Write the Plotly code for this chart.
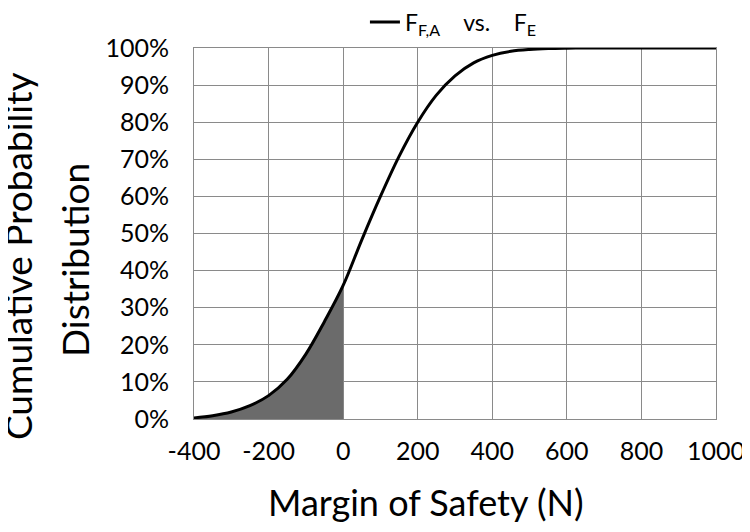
import plotly.graph_objects as go

# margin of safety (N) and cumulative probability (%)
margin = [-400, -350, -300, -250, -200, -150, -100, -50, 0, 50, 100, 150, 200,
          250, 300, 350, 400, 450, 500, 550, 600, 650, 700, 800, 900, 1000]
cum_prob = [0.3, 0.9, 1.9, 3.6, 6.3, 10.7, 17.5, 26.3, 36.0, 48.3, 60.0, 70.8, 80.0,
            87.3, 92.5, 96.0, 98.0, 99.1, 99.6, 99.85, 99.95, 100.0, 100.0, 100.0, 100.0, 100.0]

x_ticks = [-400, -200, 0, 200, 400, 600, 800, 1000]
x_labels = [str(v) for v in x_ticks]
y_ticks = [0, 10, 20, 30, 40, 50, 60, 70, 80, 90, 100]
y_labels = [f"{v}%" for v in y_ticks]

# failure region: margin below zero
fail_x = [m for m in margin if m <= 0]
fail_y = [p for m, p in zip(margin, cum_prob) if m <= 0]

FONT = "Lato, 'Open Sans', sans-serif"
GRID = "#8a8a8a"
SP = "\u00a0" * 4

fig = go.Figure()

fig.add_trace(go.Scatter(
    x=fail_x, y=fail_y,
    mode="lines", line=dict(width=0, shape="spline"),
    fill="tozeroy", fillcolor="#6b6b6b",
    showlegend=False, hoverinfo="skip",
))

fig.add_trace(go.Scatter(
    x=margin, y=cum_prob,
    mode="lines", line=dict(color="black", width=3, shape="spline"),
    name=f"F<sub>F,A</sub>{SP}vs.{SP}F<sub>E</sub>",
))

# page body adds 8px, so the figure is 8px smaller than the window
fig.update_layout(
    width=742, height=524,
    margin=dict(l=186, r=34, t=40, b=113, autoexpand=False),
    paper_bgcolor="white", plot_bgcolor="white",
    font=dict(family=FONT, color="black"),
    legend=dict(orientation="h", x=0.497, xanchor="center", y=1.07, yanchor="middle",
                font=dict(size=23), bgcolor="rgba(0,0,0,0)", itemwidth=30),
    annotations=[
        dict(text="Margin of Safety (N)", xref="paper", yref="paper",
             x=0.444, y=-0.224, xanchor="center", yanchor="middle",
             showarrow=False, font=dict(size=36)),
        dict(text="Cumulative Probability", xref="paper", yref="paper",
             x=-0.338, y=0.438, xanchor="center", yanchor="middle", textangle=-90,
             showarrow=False, font=dict(size=37)),
        dict(text="Distribution", xref="paper", yref="paper",
             x=-0.229, y=0.43, xanchor="center", yanchor="middle", textangle=-90,
             showarrow=False, font=dict(size=37)),
    ],
)

fig.update_xaxes(
    range=[-400, 1000], tickvals=x_ticks, ticktext=x_labels, tickfont=dict(size=25),
    showgrid=True, gridcolor=GRID, gridwidth=1, zeroline=False,
    showline=True, linecolor=GRID, mirror=True, ticks="", ticklabelstandoff=10,
)
fig.update_yaxes(
    range=[0, 100], tickvals=y_ticks, ticktext=y_labels, tickfont=dict(size=25),
    showgrid=True, gridcolor=GRID, gridwidth=1, zeroline=False,
    showline=True, linecolor=GRID, mirror=True, ticks="", ticklabelstandoff=19,
)

fig.write_html("out.html")
